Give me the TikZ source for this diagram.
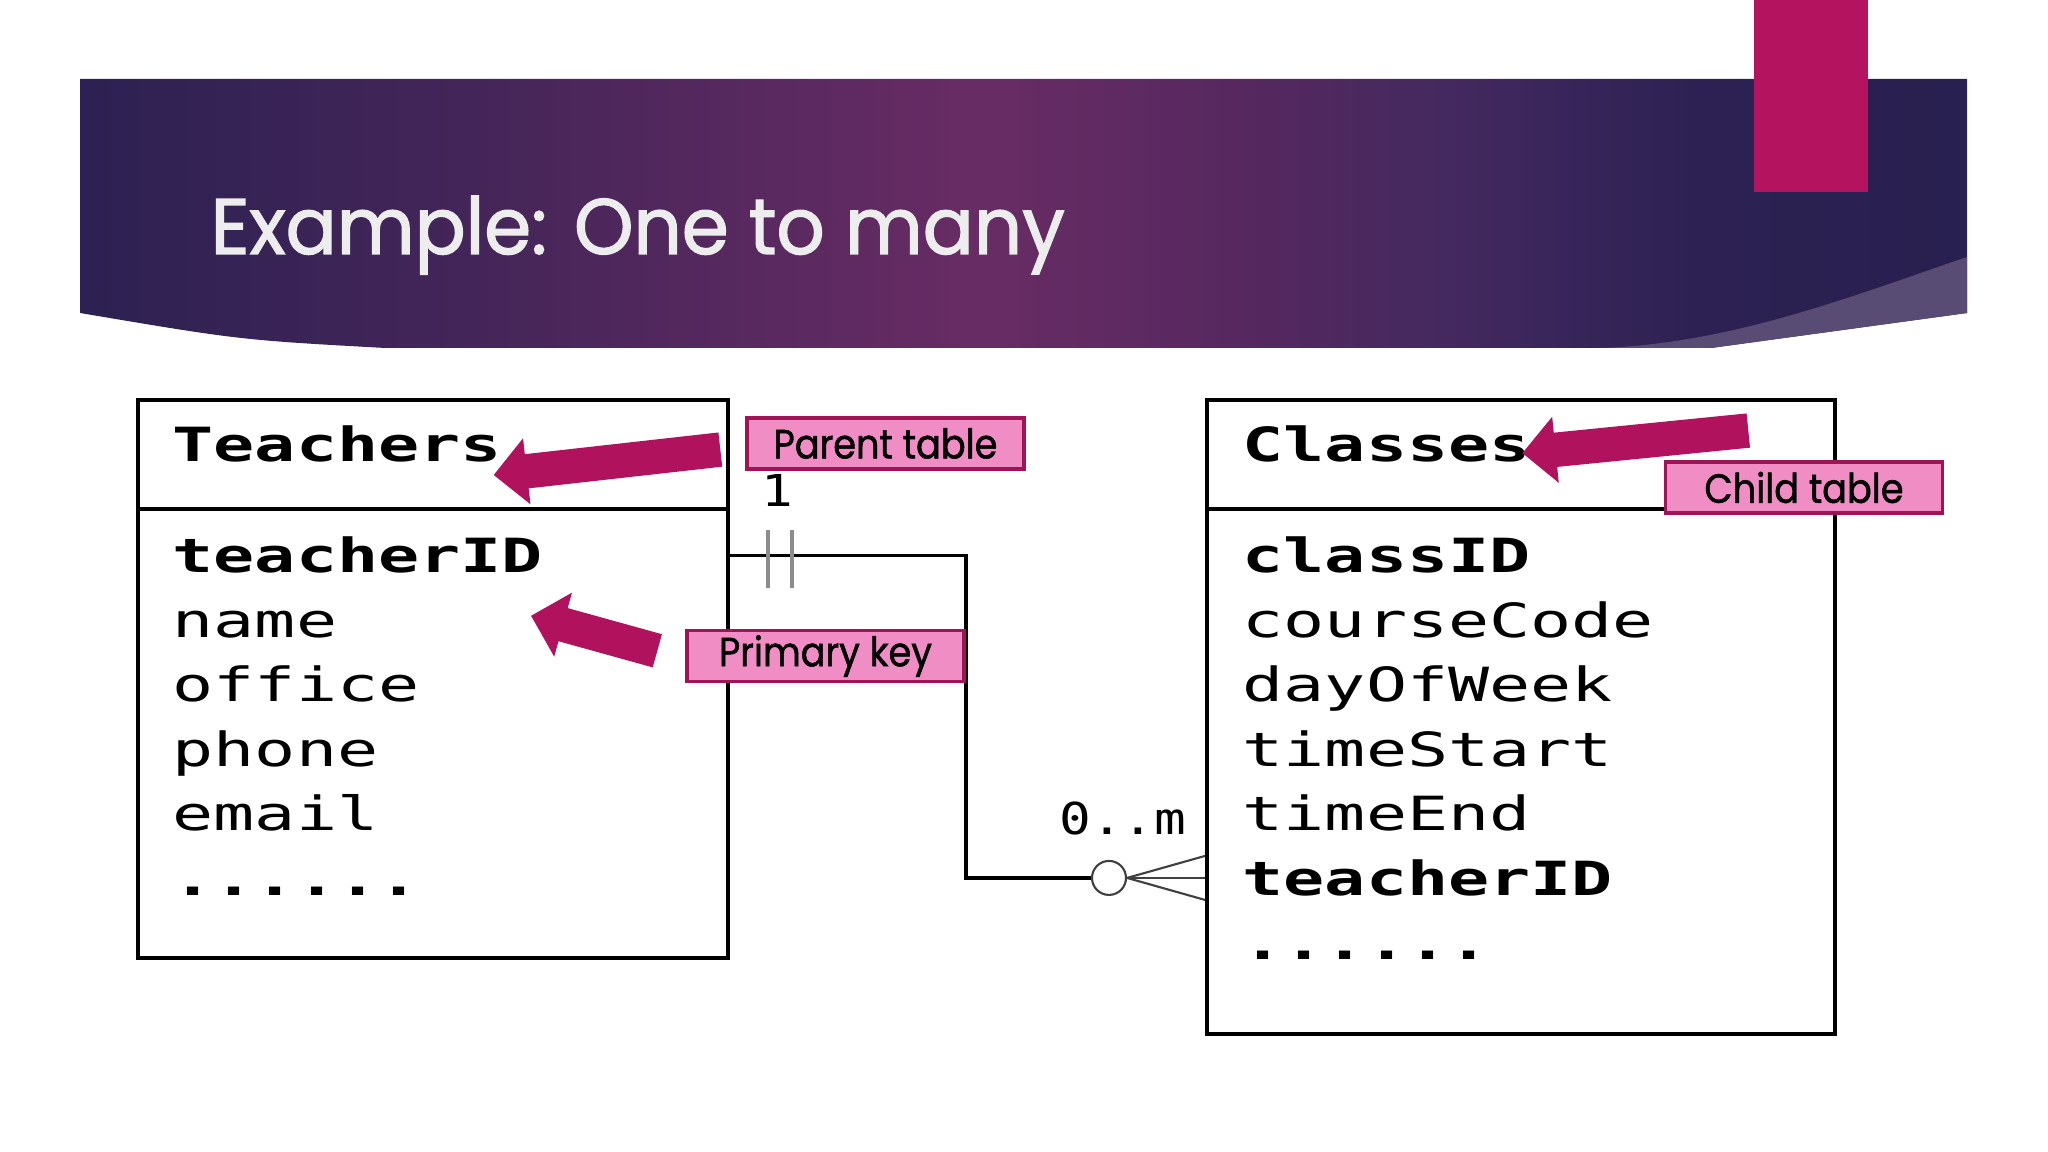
\documentclass[tikz,border=0pt]{standalone}
\usepackage{fontspec}
\setmainfont{Poppins}
\newfontfamily\tblfont[FakeStretch=1.45]{DejaVu Sans Mono}
\newfontfamily\cardfont[FakeStretch=1.2]{DejaVu Sans Mono}
\newfontfamily\tagfont[FakeStretch=0.9, FakeBold=1.2]{Poppins}
\newfontfamily\headfont[FakeStretch=0.96, FakeBold=1.6]{Poppins}
\usetikzlibrary{positioning, calc, shapes.arrows}

\definecolor{bannerL}{HTML}{2C2152}
\definecolor{bannerML}{HTML}{48265A}
\definecolor{bannerM}{HTML}{682C64}
\definecolor{bannerMR}{HTML}{55285F}
\definecolor{bannerBand}{HTML}{44295F}
\definecolor{bannerR}{HTML}{282050}
\definecolor{bannerlight}{HTML}{584C74}
\definecolor{barpink}{HTML}{B4135F}
\definecolor{arrowred}{HTML}{B0125E}
\definecolor{tagpink}{HTML}{F08DC5}
\definecolor{tagedge}{HTML}{9E1456}
\definecolor{titlegray}{HTML}{EDEDED}

\pgfdeclarehorizontalshading{banner}{100bp}{color(0bp)=(bannerL); color(25bp)=(bannerL); color(37bp)=(bannerML); color(49bp)=(bannerM); color(56bp)=(bannerMR); color(61bp)=(bannerBand); color(68bp)=(bannerL); color(75bp)=(bannerR); color(100bp)=(bannerR)}

% six dots closing each field list
\newcommand\moredots{\bfseries ......}

\begin{document}
\begin{tikzpicture}[
    tablebox/.style={draw=black, line width=1.1pt, fill=white, inner sep=0pt},
    rule/.style={line width=1.1pt},
    head/.style={font=\tblfont\bfseries\fontsize{13.4}{16}\selectfont, anchor=base west, inner sep=0pt},
    field/.style={font=\tblfont\fontsize{13.4}{16}\selectfont, anchor=base west, inner sep=0pt},
    link/.style={line width=0.9pt},
    crow/.style={line width=0.6pt, draw=black!75},
    zero/.style={circle, draw=black!75, line width=0.6pt, minimum size=0.34cm, inner sep=0pt},
    onebar/.style={line width=1.3pt, draw=black!45},
    card/.style={font=\cardfont\fontsize{12.5}{15}\selectfont, inner sep=0pt},
    tag/.style={draw=tagedge, line width=0.9pt, fill=tagpink, minimum width=2.77cm, minimum height=0.51cm, inner sep=0pt, font=\tagfont\fontsize{11.6}{13}\selectfont},
    blockarrow/.style={single arrow, fill=arrowred, draw=none, inner sep=0.165cm, minimum width=0.65cm, single arrow head extend=0.16cm},
    title/.style={font=\headfont\fontsize{22.4}{26}\selectfont, text=titlegray, inner sep=0pt, anchor=base west}
]
    \useasboundingbox (0,0) rectangle (20.48,11.52);
    \fill[white] (0,0) rectangle (20.48,11.52);

    % Banner
    \shade[shading=banner] (0.80,10.73) -- (19.67,10.73) -- (19.67,8.39) -- (17.11,8.04)
        -- (3.85,8.04) .. controls (2.4,8.12) .. (0.80,8.39) -- cycle;
    \fill[bannerlight] (19.67,8.95) .. controls (18.5,8.55) and (17.3,8.08) .. (16.00,8.04)
        -- (17.11,8.04) -- (19.67,8.39) -- cycle;
    \fill[barpink] (17.54,11.52) rectangle (18.68,9.60);
    \node[title] (title) at (2.10,8.98) {Example: One to many};

    % Tables
    \node[tablebox, minimum width=5.90cm, minimum height=5.58cm, anchor=north west] (teachers) at (1.36,7.54) {};
    \node[tablebox, minimum width=6.28cm, minimum height=6.34cm, anchor=north west] (classes) at (12.05,7.54) {};
    \draw[rule] ($(teachers.north west)+(0,-1.11)$) -- ($(teachers.north east)+(0,-1.11)$);
    \draw[rule] ($(classes.north west)+(0,-1.11)$) -- ($(classes.north east)+(0,-1.11)$);

    \node[head] (teachersname) at (1.72,6.90) {Teachers};
    \node[head] (classesname) at (12.42,6.90) {Classes};

    \foreach \f [count=\i] in {{\bfseries teacherID}, name, office, phone, email, \moredots} {
        \pgfmathsetmacro\rowy{5.79-0.645*(\i-1)}
        \node[field] (tf\i) at (1.72,\rowy) {\f};
    }
    \foreach \f [count=\i] in {{\bfseries classID}, courseCode, dayOfWeek, timeStart, timeEnd, {\bfseries teacherID}, \moredots} {
        \pgfmathsetmacro\rowy{5.79-0.645*(\i-1)}
        \node[field] (cf\i) at (12.42,\rowy) {\f};
    }

    % Relationship: one teacher, zero or many classes
    \coordinate (bend) at (9.66,0);
    \node[zero] (manyo) at ($(classes.west |- cf6)+(-0.96,0)$) {};
    \draw[link] (teachers.east |- tf1) -- (bend |- tf1) -- (bend |- cf6) -- (manyo.west);
    \draw[crow] (manyo.east) -- (classes.west |- manyo);
    \draw[crow] (manyo.east) -- ($(classes.west |- manyo)+(0,0.22)$);
    \draw[crow] (manyo.east) -- ($(classes.west |- manyo)+(0,-0.22)$);
    \draw[onebar] (7.68,6.22) -- (7.68,5.64);
    \draw[onebar] (7.92,6.22) -- (7.92,5.64);
    \node[card, anchor=base] (one) at (7.77,6.45) {1};
    \node[card, anchor=base east] (many) at (11.87,3.17) {0..m};

    % Call-outs
    \node[tag] (parent) at (8.855,7.085) {Parent table};
    \node[tag] (pkey) at (8.255,4.96) {Primary key};
    \node[tag] (child) at (18.04,6.645) {Child table};

    \node[blockarrow, rotate=186.4, minimum height=2.28cm, anchor=tail] (parrow) at (7.21,7.025) {};
    \node[blockarrow, rotate=164.5, minimum height=1.31cm, anchor=tail] (karrow) at (6.58,5.01) {};
    \node[blockarrow, rotate=185.7, minimum height=2.27cm, anchor=tail] (carrow) at (17.49,7.215) {};

\end{tikzpicture}
\end{document}
